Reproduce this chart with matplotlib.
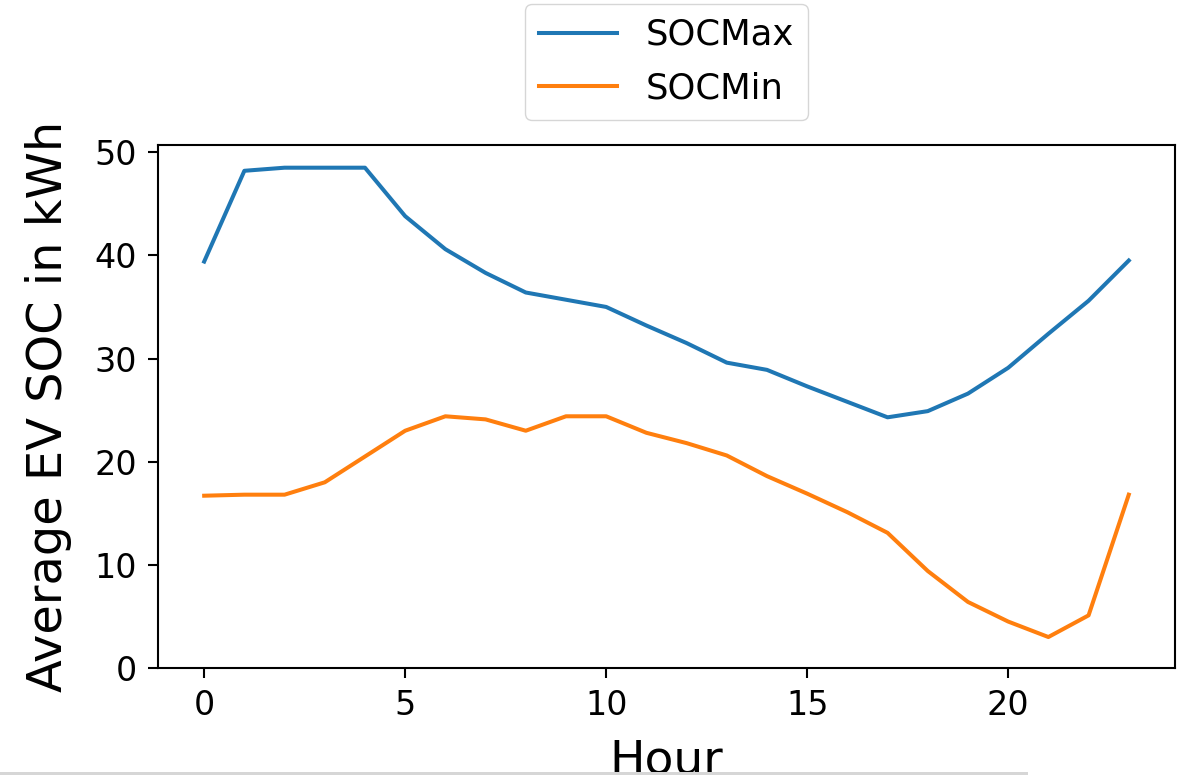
import matplotlib
matplotlib.use("Agg")
import matplotlib.pyplot as plt
from matplotlib.patches import Rectangle

hours = list(range(24))
soc_max = [39.4, 48.2, 48.5, 48.5, 48.5, 43.8, 40.6, 38.3, 36.4, 35.7,
           35.0, 33.2, 31.5, 29.6, 28.9, 27.3, 25.8, 24.3, 24.9, 26.6,
           29.1, 32.4, 35.6, 39.5]
soc_min = [16.7, 16.8, 16.8, 18.0, 20.5, 23.0, 24.4, 24.1, 23.0, 24.4,
           24.4, 22.8, 21.8, 20.6, 18.6, 16.9, 15.1, 13.1, 9.4, 6.4,
           4.5, 3.0, 5.1, 16.8]
series_labels = ["SOCMax", "SOCMin"]
x_label = "Hour"
y_label = "Average EV SOC in kWh"

plt.rcParams["font.family"] = ["DejaVu Sans"]

fig = plt.figure(figsize=(11.84, 7.75), dpi=100)
ax = fig.add_axes([0.1334, 0.1381, 0.859, 0.6748])

ax.plot(hours, soc_max, color="#1f77b4", lw=2.9, label=series_labels[0])
ax.plot(hours, soc_min, color="#ff7f0e", lw=2.9, label=series_labels[1])

ax.set_ylim(0, 50.7)
ax.set_xlabel(x_label, fontsize=34, labelpad=12)
ax.set_ylabel(y_label, fontsize=34.5, labelpad=16)
ax.tick_params(labelsize=24, length=7, width=1.5, pad=8)
for s in ax.spines.values():
    s.set_linewidth(1.5)

ax.legend(loc="upper center", bbox_to_anchor=(0.5, 1.27), borderaxespad=0,
          fontsize=25.5, handlelength=2.2, labelspacing=0.55, ncol=1)

fig.add_artist(Rectangle((0, 0), 1028 / 1184, 3.5 / 775, transform=fig.transFigure,
                         facecolor="#d6d6d6", edgecolor="none", zorder=10))

fig.savefig("out.png", dpi=100)
